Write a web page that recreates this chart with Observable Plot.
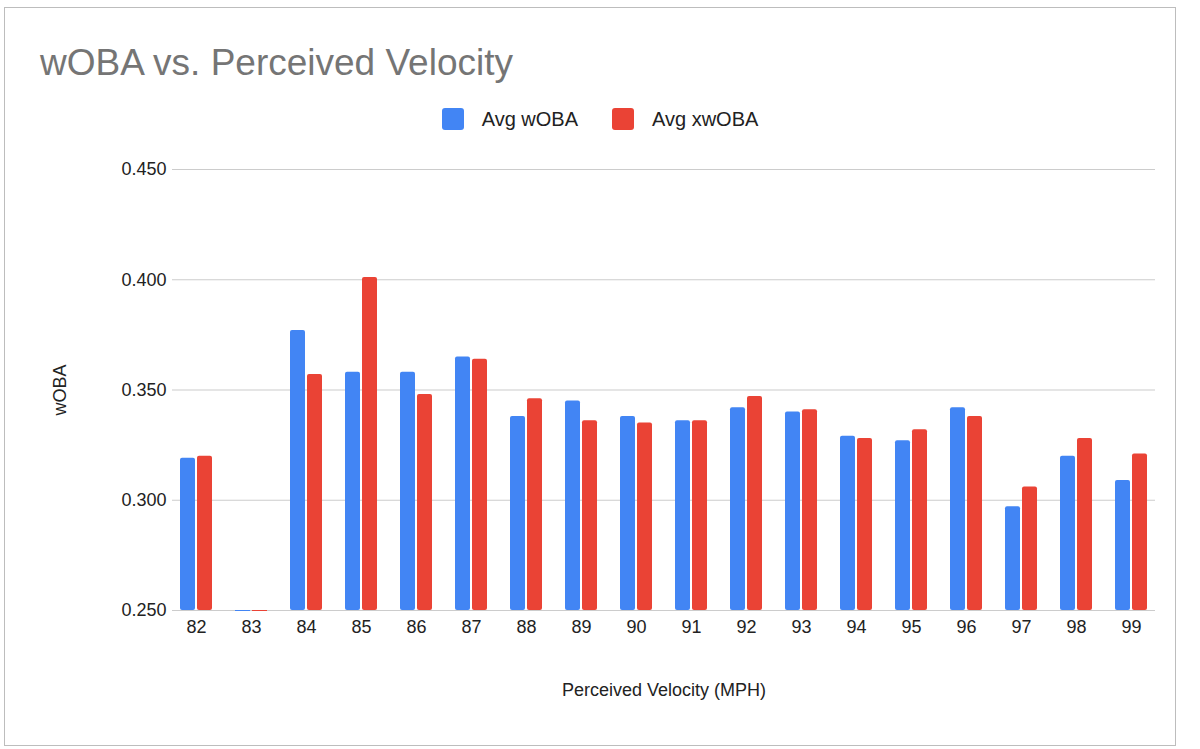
<!DOCTYPE html>
<html><head><meta charset="utf-8">
<script src="https://cdn.jsdelivr.net/npm/d3@7"></script>
<script src="https://cdn.jsdelivr.net/npm/@observablehq/plot@0.6"></script>
<style>
body{margin:0;background:#fff;font-family:Arial,"Liberation Sans",sans-serif;}
#wrap{position:relative;width:1200px;height:749px;overflow:hidden}
#frame{position:absolute;left:4px;top:7px;width:1170px;height:737px;border:1px solid #bdbdbd;}
#title{position:absolute;left:40px;top:42px;font-size:37px;color:#757575}
#legend{position:absolute;left:0;width:1200px;top:108px;text-align:center;font-size:20px;color:#222}
.sw{display:inline-block;width:22px;height:22px;border-radius:3px;vertical-align:-4px;margin-right:18px}
.layer{position:absolute;left:0;top:0}
</style></head><body>
<div id="wrap"><div id="frame"></div><div id="grid" class="layer"></div><div id="chart" class="layer"></div>
<div id="title">wOBA vs. Perceived Velocity</div>
<div id="legend"><span class="sw" style="background:#4285f4"></span>Avg wOBA<span style="display:inline-block;width:34px"></span><span class="sw" style="background:#ea4335"></span>Avg xwOBA</div>
</div>
<script>
const velocities = ["82","83","84","85","86","87","88","89","90","91","92","93","94","95","96","97","98","99"];
const woba  = [0.319,0.250,0.377,0.358,0.358,0.365,0.338,0.345,0.338,0.336,0.342,0.340,0.329,0.327,0.342,0.297,0.320,0.309];
const xwoba = [0.320,0.250,0.357,0.401,0.348,0.364,0.346,0.336,0.335,0.336,0.347,0.341,0.328,0.332,0.338,0.306,0.328,0.321];
const series = ["Avg wOBA","Avg xwOBA"];
const yTicks = [0.25,0.30,0.35,0.40,0.45];
const data = velocities.flatMap((v,i)=>[{v,s:series[0],val:woba[i]},{v,s:series[1],val:xwoba[i]}]);
const common = {width:1200, height:749, marginTop:169, marginBottom:139, marginLeft:172, marginRight:45};
const font = {fontSize:"18px", fontFamily:"Arial, 'Liberation Sans', sans-serif", color:"#222", background:"transparent"};
const grid = Plot.plot({
  ...common, style:font,
  y:{domain:[0.25,0.45], axis:null},
  x:{domain:[0,1], axis:null},
  marks:[Plot.ruleY(yTicks,{stroke:"#cccccc", strokeWidth:1.2})]
});
document.getElementById("grid").appendChild(grid);
const svg = Plot.plot({
  ...common, style:font,
  fx:{domain:velocities, padding:0.34, label:"Perceived Velocity (MPH)", labelAnchor:"center", labelOffset:85, tickSize:0, tickPadding:10},
  x:{domain:series, padding:0.1, axis:null},
  y:{domain:[0.25,0.45], ticks:yTicks, tickFormat:d3.format(".3f"), label:"wOBA", labelAnchor:"center", labelArrow:"none", labelOffset:125, tickSize:0, tickPadding:12},
  color:{domain:series, range:["#4285f4","#ea4335"]},
  marks:[
    Plot.barY(data,{fx:"v", x:"s", y1:0.25, y2:"val", fill:"s", rx:2}),
    Plot.tickY(data.filter(d=>d.val<=0.25),{fx:"v", x:"s", y:"val", stroke:"s", strokeWidth:1})
  ]
});
document.getElementById("chart").appendChild(svg);
</script>
</body></html>
